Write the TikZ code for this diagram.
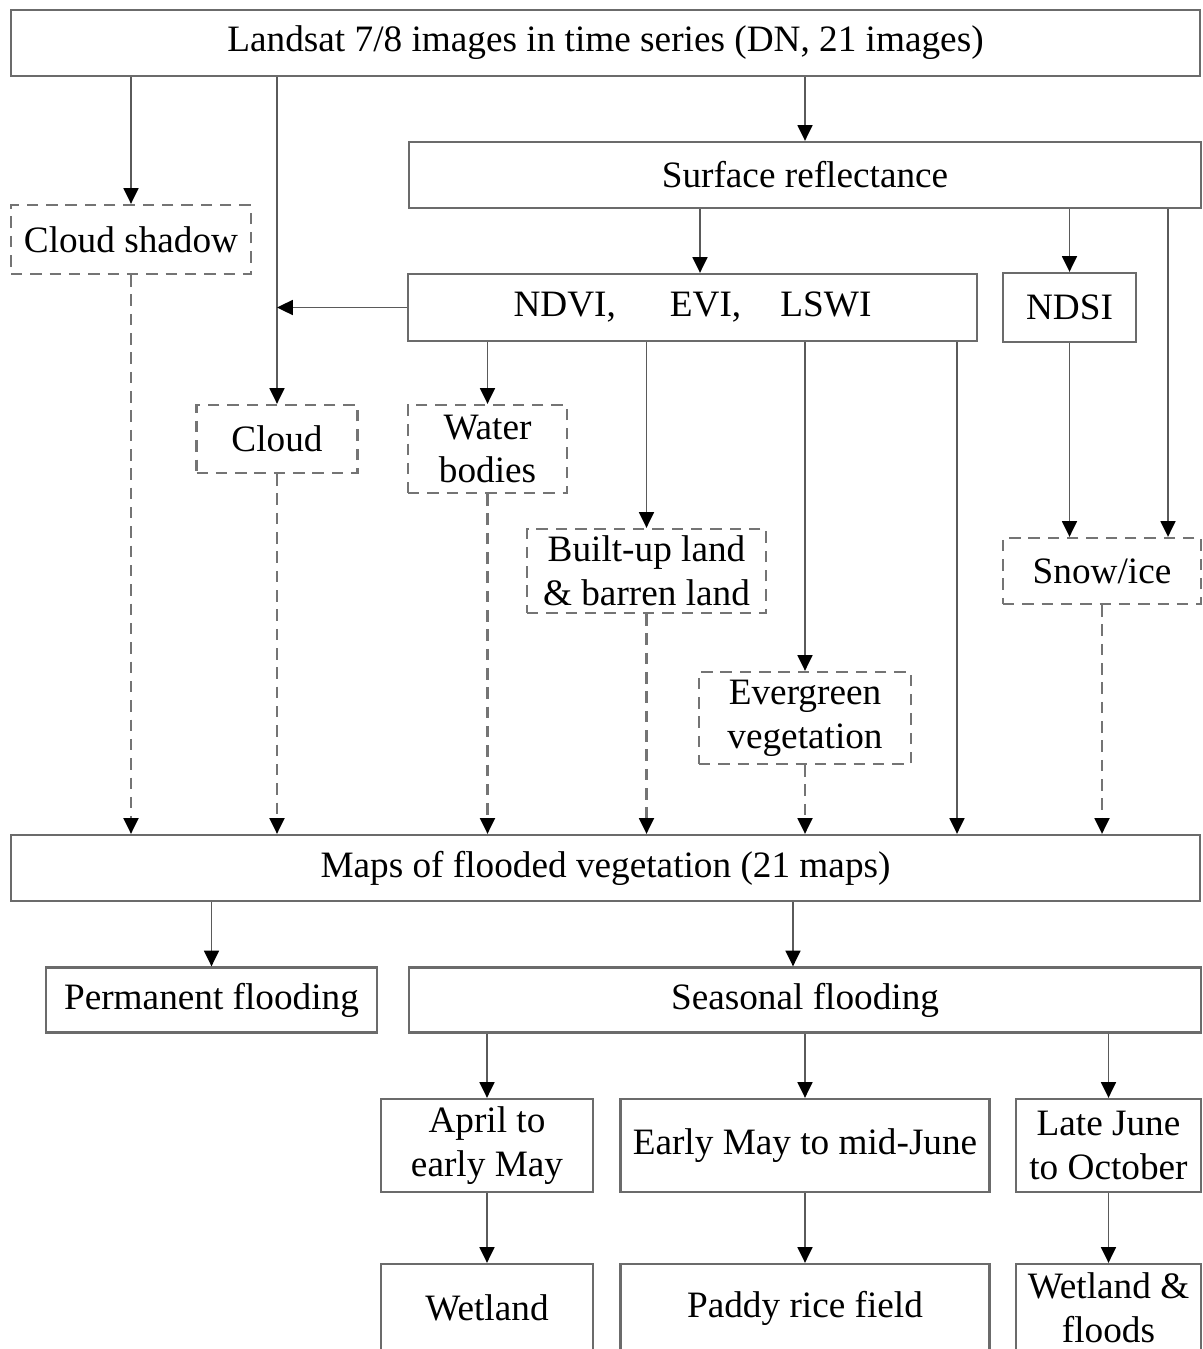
\documentclass[tikz,border=0pt]{standalone}
\usepackage{fontspec}
\setmainfont{Liberation Serif}
\usetikzlibrary{arrows.meta}
\definecolor{boxgray}{HTML}{6B6B6B}
\definecolor{linegray}{HTML}{5A5A5A}
\definecolor{dashgray}{HTML}{747474}

\begin{document}
\begin{tikzpicture}[
  x=0.02cm,
  y=-0.02cm,
  every node/.style={font=\fontsize{21.2}{25}\selectfont, text=black, align=center, inner sep=0pt},
  boxsize/.style 2 args={minimum width=#1*0.02cm, minimum height=#2*0.02cm},
  solidbox/.style={draw=boxgray, line width=1.3pt},
  dashbox/.style={draw=dashgray, line width=1.3pt, dash pattern=on 6.5pt off 4.5pt},
  arr/.style={draw=linegray, line width=1.1pt, -{Triangle[length=9pt, width=8.5pt, color=black]}},
  darr/.style={arr, draw=dashgray, line width=1.2pt, dash pattern=on 6.5pt off 4.5pt}
]
  \useasboundingbox (0,0) rectangle (1203,1349);

  % ---- input and indices ----
  \node[solidbox, boxsize={1189}{66}] (images) at (605.5,43) {Landsat 7/8 images in time series (DN, 21 images)};
  \node[solidbox, boxsize={792}{66}] (surface) at (805,175) {Surface reflectance};
  \node[dashbox, boxsize={240}{69}] (shadow) at (131,239.5) {Cloud shadow};
  \node[solidbox, boxsize={569}{67}] (indices) at (692.5,307.5) {NDVI,\hspace{1.45em}EVI,\hspace{1.05em}LSWI};
  \node[solidbox, boxsize={133}{69}] (ndsi) at (1069.5,307.5) {NDSI};

  % ---- masks (dashed) ----
  \node[dashbox, boxsize={161}{68}] (cloud) at (277,439) {Cloud};
  \node[dashbox, boxsize={159}{88}] (water) at (487.5,449) {Water\\bodies};
  \node[dashbox, boxsize={239}{84}] (builtup) at (646.5,571) {Built-up land\\\& barren land};
  \node[dashbox, boxsize={212}{92}] (evergreen) at (805,718) {Evergreen\\vegetation};
  \node[dashbox, boxsize={198}{66}] (snow) at (1102,571) {Snow/ice};

  % ---- results ----
  \node[solidbox, boxsize={1189}{66}] (maps) at (605.5,868) {Maps of flooded vegetation (21 maps)};
  \node[solidbox, boxsize={331}{65}] (permanent) at (211.5,1000) {Permanent flooding};
  \node[solidbox, boxsize={792}{65}] (seasonal) at (805,1000) {Seasonal flooding};
  \node[solidbox, boxsize={212}{93}] (april) at (487,1145.5) {April to\\early May};
  \node[solidbox, boxsize={369}{93}] (earlymay) at (805,1145.5) {Early May to mid-June};
  \node[solidbox, boxsize={185}{93}] (latejune) at (1108.5,1145.5) {Late June\\to October};
  \node[solidbox, boxsize={212}{88}] (wetland) at (487,1308) {Wetland};
  \node[solidbox, boxsize={369}{88}] (paddy) at (805,1308) {Paddy rice field};
  \node[solidbox, boxsize={185}{88}] (floods) at (1108.5,1308) {Wetland \&\\floods};

  % ---- off-centre connector columns ----
  \coordinate (idxin) at (700,0);
  \coordinate (idxout) at (957,0);
  \coordinate (snowin) at (1168,0);
  \coordinate (seasin) at (793,0);

  % ---- connectors ----
  \draw[arr] (images.south -| shadow) -- (shadow.north);
  \draw[arr] (images.south -| cloud) -- (cloud.north);
  \draw[arr] (images.south -| surface) -- (surface.north);
  \draw[arr] (surface.south -| idxin) -- (indices.north -| idxin);
  \draw[arr] (surface.south -| ndsi) -- (ndsi.north);
  \draw[arr] (surface.south -| snowin) -- (snow.north -| snowin);
  \draw[arr] (indices.west) -- (indices.west -| cloud);
  \draw[arr] (indices.south -| water) -- (water.north);
  \draw[arr] (indices.south -| builtup) -- (builtup.north);
  \draw[arr] (indices.south -| evergreen) -- (evergreen.north);
  \draw[arr] (indices.south -| idxout) -- (maps.north -| idxout);
  \draw[arr] (ndsi.south) -- (snow.north -| ndsi);
  \foreach \n in {shadow, cloud, water, builtup, evergreen, snow}
    \draw[darr] (\n.south) -- (maps.north -| \n);
  \draw[arr] (maps.south -| permanent) -- (permanent.north);
  \draw[arr] (maps.south -| seasin) -- (seasonal.north -| seasin);
  \foreach \a/\b in {april/wetland, earlymay/paddy, latejune/floods} {
    \draw[arr] (seasonal.south -| \a) -- (\a.north);
    \draw[arr] (\a.south) -- (\b.north);
  }
\end{tikzpicture}
\end{document}
